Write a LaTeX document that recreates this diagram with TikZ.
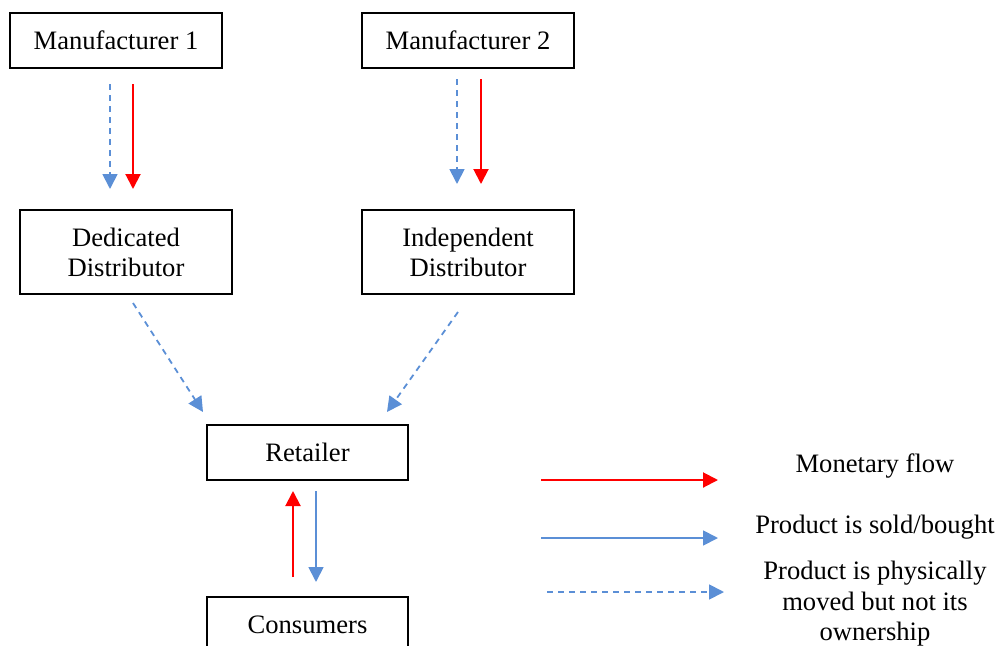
\documentclass[tikz,border=0pt]{standalone}
\usepackage{fontspec}
\setmainfont{Liberation Serif}
\usetikzlibrary{arrows.meta,calc}
\definecolor{pblue}{HTML}{5B8FD6}
\definecolor{mred}{HTML}{FF0000}
\begin{document}
\begin{tikzpicture}[x=1pt,y=-1pt,
  box/.style={draw=black,line width=2pt,minimum width=212pt,inner sep=0pt,align=center,font=\fontsize{26.6}{30}\selectfont},
  lbl/.style={align=center,inner sep=0pt,font=\fontsize{26.6}{30.5}\selectfont},
  tip/.style={-{Triangle[length=15pt,width=15pt]}},
  money/.style={tip,draw=mred,line width=2pt},
  sold/.style={tip,draw=pblue,line width=1.8pt},
  moved/.style={tip,draw=pblue,line width=1.8pt,dash pattern=on 6pt off 5pt}]
\useasboundingbox (0,0) rectangle (998,645);
\node[box,minimum height=55pt] (m1) at (116,40.5) {Manufacturer 1};
\node[box,minimum height=55pt] (m2) at (468,40.5) {Manufacturer 2};
\node[box,minimum height=84pt] (dd) at (126,252) {Dedicated\\Distributor};
\node[box,minimum height=84pt] (id) at (468,252) {Independent\\Distributor};
\node[box,minimum width=201pt,minimum height=55pt] (ret) at (307.5,452.5) {Retailer};
\node[box,minimum width=201pt,minimum height=55pt] (con) at (307.5,624.5) {Consumers};
% manufacturer 1 -> dedicated
\draw[moved] ($(m1.south)+(-6,15)$) -- ($(dd.north)+(-16,-20)$);
\draw[money] ($(m1.south)+(17,15)$) -- ($(dd.north)+(7,-20)$);
% manufacturer 2 -> independent
\draw[moved] ($(m2.south)+(-11,10)$) -- ($(id.north)+(-11,-25)$);
\draw[money] ($(m2.south)+(13,10)$) -- ($(id.north)+(13,-25)$);
% distributors -> retailer
\draw[moved] ($(dd.south)+(7,8)$) -- ($(ret.north)+(-104.5,-12)$);
\draw[moved] ($(id.south)+(-10,17)$) -- ($(ret.north)+(79.5,-12)$);
% retailer <-> consumers
\draw[money] ($(con.north)+(-14.5,-19)$) -- ($(ret.south)+(-14.5,10)$);
\draw[sold] ($(ret.south)+(8.5,10)$) -- ($(con.north)+(8.5,-14)$);
% legend
\coordinate (l1a) at (541,480); \coordinate (l1b) at (718,480);
\coordinate (l2a) at (541,538); \coordinate (l2b) at (718,538);
\coordinate (l3a) at (547,592); \coordinate (l3b) at (724,592);
\draw[money] (l1a) -- (l1b);
\draw[sold] (l2a) -- (l2b);
\draw[moved] (l3a) -- (l3b);
\node[lbl] (t1) at (875,466) {Monetary flow};
\node[lbl] (t2) at (875,527) {Product is sold/bought};
\node[lbl,anchor=north] (t3) at (875,561) {Product is physically\\moved but not its\\ownership};
\end{tikzpicture}
\end{document}
